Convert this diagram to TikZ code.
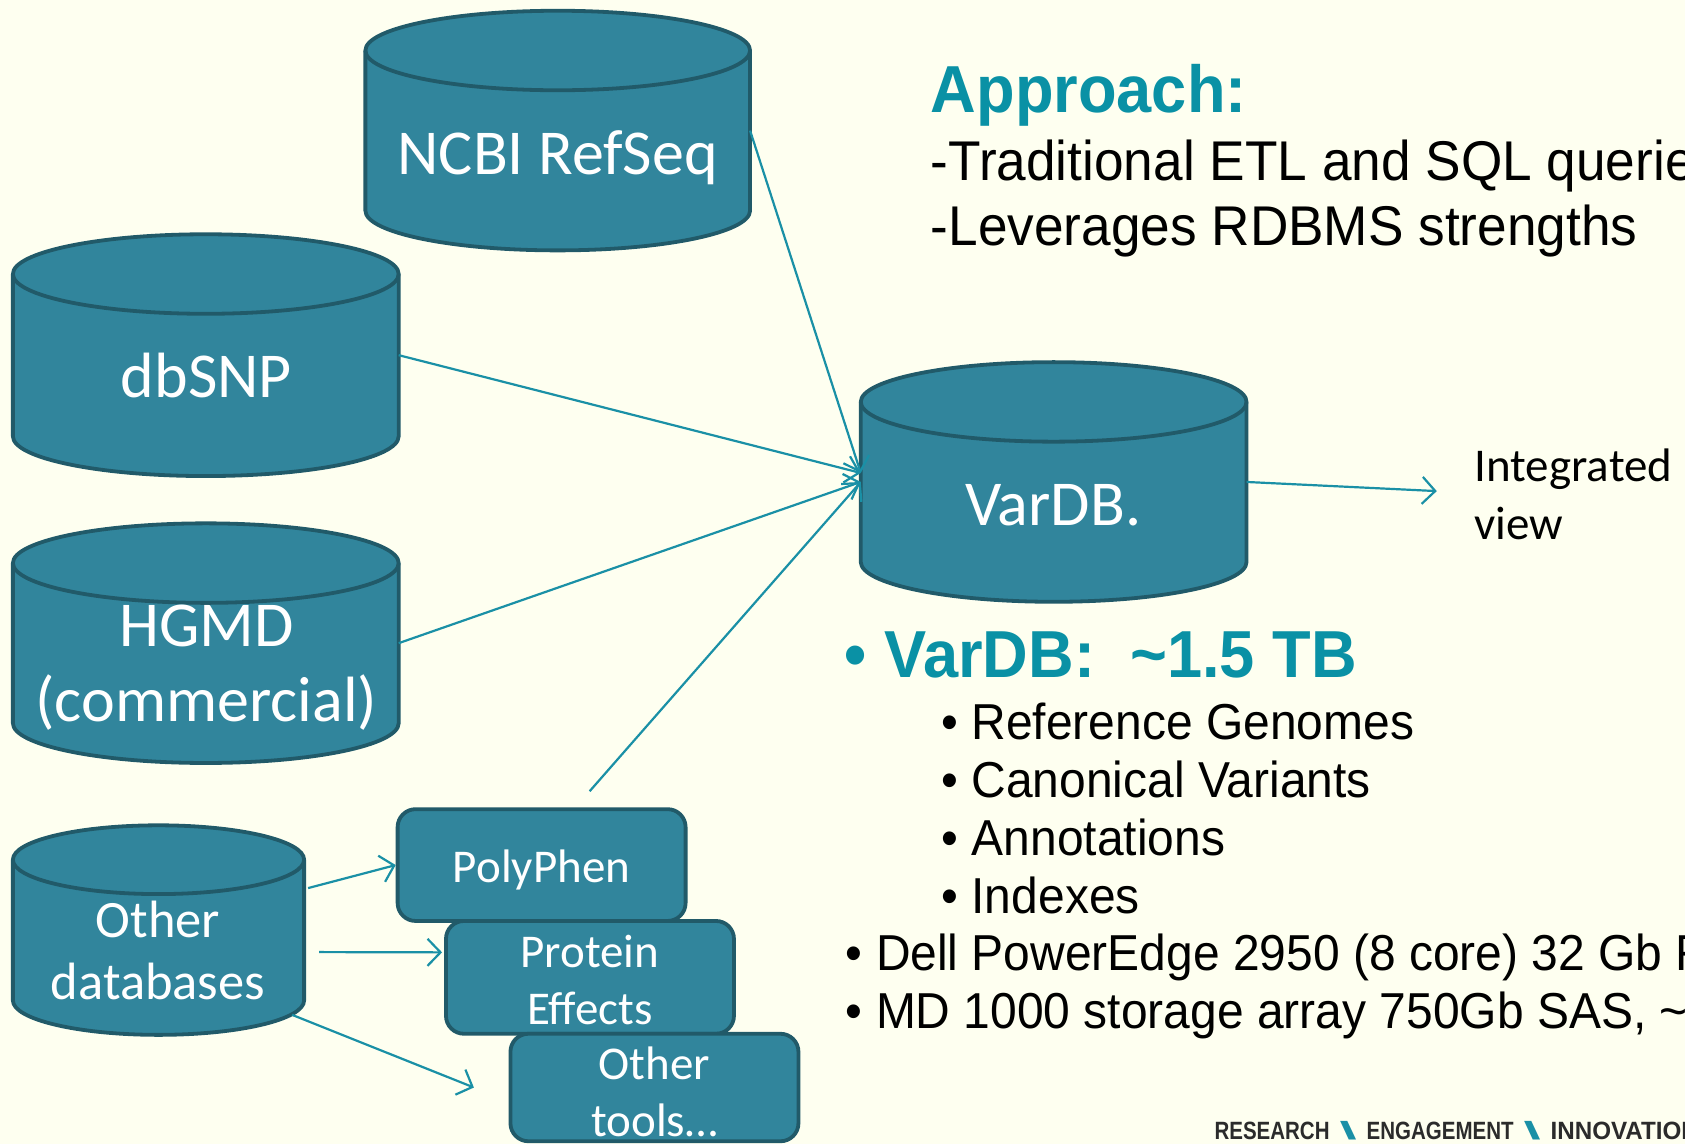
\documentclass[tikz,border=0pt]{standalone}
\usepackage{fontspec}
\usepackage{graphicx}
\setmainfont{Carlito}
\newfontfamily\arialf[FakeStretch=0.95]{Liberation Sans}
\newfontfamily\footf[FakeStretch=0.82]{Liberation Sans}
\usetikzlibrary{arrows.meta,calc}
\definecolor{bgc}{HTML}{FEFFF0}
\definecolor{cylf}{HTML}{31859C}
\definecolor{cyld}{HTML}{215A69}
\definecolor{conc}{HTML}{1A90A6}
\definecolor{headc}{HTML}{0A91A5}
\definecolor{footc}{HTML}{2B2B2B}
\newcommand\dbcyl[6]{% name, L, R, T, B, ry
  \pgfmathsetmacro\cyRx{(#3-#2)/2}%
  \pgfmathsetmacro\cyTa{#4+#6}%
  \pgfmathsetmacro\cyBb{#5-#6}%
  \pgfmathsetmacro\cyCx{(#2+#3)/2}%
  \pgfmathsetmacro\cyCy{(#4+#5)/2}%
  \pgfmathsetmacro\cyW{(#3-#2)*1.0746}%
  \pgfmathsetmacro\cyH{(#5-#4)*1.0746}%
  \path[cylbody] (#2,\cyTa) -- (#2,\cyBb) arc[start angle=180,end angle=0,x radius=\cyRx,y radius=#6] -- (#3,\cyTa) arc[start angle=0,end angle=-180,x radius=\cyRx,y radius=#6] -- cycle;
  \draw[cylline] (#2,\cyTa) arc[start angle=180,end angle=0,x radius=\cyRx,y radius=#6];
  \node[cylnode, minimum width=\cyW pt, minimum height=\cyH pt] (#1) at (\cyCx,\cyCy) {};
}
\newcommand\footsep{\hspace{10pt}{\color{conc}\scalebox{3}[1]{\textbackslash}}\hspace{10pt}}
\begin{document}
\begin{tikzpicture}[x=1.0746pt,y=-1.0746pt,
  cylbody/.style={fill=cylf, draw=cyld, line width=3.8pt, line join=round},
  cylline/.style={draw=cyld, line width=3.8pt},
  cylnode/.style={draw=none, inner sep=0pt, outer sep=0pt},
  cyltext/.style={text=white, anchor=base, inner sep=0pt, font=\fontsize{64}{64}\selectfont},
  cyltextsm/.style={text=white, anchor=base, inner sep=0pt, font=\fontsize{52.5}{52.5}\selectfont},
  toolbox/.style={fill=cylf, draw=cyld, line width=3.8pt, rounded corners=18pt, inner sep=0pt},
  boxtext/.style={text=white, align=center, inner sep=0pt, font=\fontsize{47}{57}\selectfont},
  conn/.style={draw=conc, line width=2.2pt, -{Straight Barb[length=13pt,width=27pt]}},
  headtext/.style={anchor=base west, inner sep=0pt, text=headc, font=\arialf\bfseries\fontsize{66.5}{66.5}\selectfont},
  mtext/.style={anchor=base west, inner sep=0pt, font=\arialf\fontsize{56}{56}\selectfont},
  rtext/.style={anchor=base west, inner sep=0pt, font=\arialf\fontsize{50.5}{50.5}\selectfont},
  sidetext/.style={anchor=base west, inner sep=0pt, font=\fontsize{47}{47}\selectfont},
  foottext/.style={anchor=base west, inner sep=0pt, text=footc, font=\footf\bfseries\fontsize{25}{25}\selectfont}]
\useasboundingbox (0,0) rectangle (1568,1065);
\fill[bgc] (0,0) rectangle (1568,1065);
\clip (0,0) rectangle (1568,1065);

% cylinders
\dbcyl{ncbi}{340}{698}{10}{233}{37}
\node[cyltext] (ncbit) at (519,162) {NCBI RefSeq};
\dbcyl{dbsnp}{12}{371}{218}{443}{37}
\node[cyltext] (dbsnpt) at (192,370) {dbSNP};
\dbcyl{hgmd}{12}{371}{487}{710}{37}
\node[cyltext] (hgmdt) at (192,602) {HGMD};
\node[cyltext] (hgmdt2) at (192,671) {(commercial)};
\dbcyl{vardb}{801}{1160}{337}{560}{37}
\node[cyltext] (vardbt) at (980,489) {VarDB.};
\dbcyl{otherdb}{12}{283}{768}{963}{32}
\node[cyltextsm] (otherdbt) at (147,872) {Other};
\node[cyltextsm] (otherdbt2) at (147,930) {databases};

% tool boxes
\node[toolbox, minimum width=288pt, minimum height=111.8pt] (polyphen) at (504,805) {};
\node[boxtext] (polyphent) at (504,810) {PolyPhen};
\node[toolbox, minimum width=288pt, minimum height=112.8pt] (protein) at (549,909.5) {};
\node[boxtext] (proteint) at (549,912) {Protein\\Effects};
\node[toolbox, minimum width=288pt, minimum height=107.5pt] (othertools) at (609,1012) {};
\node[boxtext] (othertoolst) at (609,1016) {Other\\tools…};

% connectors
\draw[conn] (ncbi.east) -- ([yshift=9pt]vardb.west);
\draw[conn] (dbsnp.east) -- ([yshift=9pt]vardb.west);
\draw[conn] (hgmd.east) -- (vardb.west);
\draw[conn] ([xshift=48pt,yshift=16pt]polyphen.north) -- (vardb.west);
\coordinate (intend) at (1337,457);
\draw[conn] (vardb.east) -- (intend);
\draw[conn] ([xshift=4pt,yshift=42pt]otherdb.east) -- (polyphen.west);
\draw[conn] ([xshift=15pt,yshift=-22pt]otherdb.east) -- ([xshift=-2pt,yshift=25pt]protein.west);
\coordinate (toolsend) at (441,1012);
\draw[conn] ([xshift=-12pt,yshift=20pt]otherdb.south east) -- (toolsend);

% side label
\node[sidetext] (integ1) at (1372,448) {Integrated};
\node[sidetext] (integ2) at (1372,502) {view};

% right text
\node[headtext] (approach) at (866,105) {Approach:};
\node[mtext] (trad) at (866,168) {-Traditional ETL and SQL queries};
\node[mtext] (lev) at (866,228) {-Leverages RDBMS strengths};
\node[headtext] (vsize) at (786,630) {•\ VarDB:\ \ \textasciitilde1.5 TB};
\node[rtext] (b1) at (876,688) {• Reference Genomes};
\node[rtext] (b2) at (876,742) {• Canonical Variants};
\node[rtext] (b3) at (876,796) {• Annotations};
\node[rtext] (b4) at (876,850) {• Indexes};
\node[rtext] (b5) at (787,903) {• Dell PowerEdge 2950 (8 core) 32 Gb RAM};
\node[rtext] (b6) at (787,957) {• MD 1000 storage array 750Gb SAS, \textasciitilde};
\node[foottext] (foot) at (1130,1060) {RESEARCH\footsep ENGAGEMENT\footsep \scalebox{1.18}[1]{INNOVATION}};
\end{tikzpicture}
\end{document}
